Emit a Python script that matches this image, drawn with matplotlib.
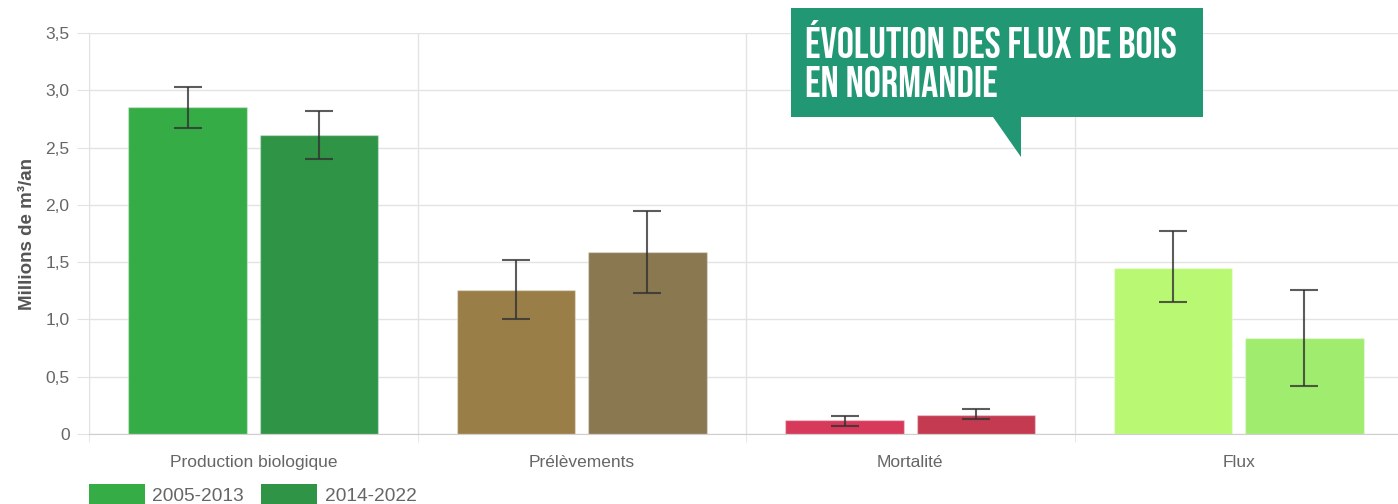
import numpy as np
import matplotlib
matplotlib.use("Agg")
import matplotlib.pyplot as plt
from matplotlib.patches import Rectangle, Polygon, Patch
from matplotlib.ticker import FuncFormatter, MultipleLocator, FixedLocator
from matplotlib import font_manager

plt.rcParams["font.family"] = ["Liberation Sans", "DejaVu Sans"]

categories = ["Production biologique", "Prélèvements", "Mortalité", "Flux"]
series_labels = ["2005-2013", "2014-2022"]

values_2005 = [2.85, 1.26, 0.12, 1.45]
low_2005 = [2.67, 1.00, 0.07, 1.15]
high_2005 = [3.03, 1.52, 0.16, 1.77]

values_2014 = [2.61, 1.59, 0.17, 0.84]
low_2014 = [2.40, 1.23, 0.13, 0.42]
high_2014 = [2.82, 1.95, 0.22, 1.26]

colors_2005 = ["#35ac46", "#9a7e47", "#d6395a", "#b9f872"]
colors_2014 = ["#2f9445", "#8a7850", "#c43a50", "#a0ec6e"]

title_lines = ["ÉVOLUTION DES FLUX DE BOIS", "EN NORMANDIE"]

GRID = "#e3e3e3"
TXT = "#666666"


def pick_font(cands):
    for c in cands:
        try:
            font_manager.findfont(font_manager.FontProperties(family=c),
                                  fallback_to_default=False)
            return c
        except ValueError:
            continue
    return "DejaVu Sans"


title_font = pick_font(["Bebas Neue", "Oswald", "Fira Sans Extra Condensed",
                        "Fira Sans Condensed", "Liberation Sans Narrow"])

fig = plt.figure(figsize=(13.98, 5.04), dpi=100)
ax = fig.add_axes([89 / 1398, 1 - 434 / 504, 1314 / 1398, 401 / 504])

x = np.arange(len(categories))
width = 0.36
off = 0.2
for vals, lo, hi, cols, sgn in [(values_2005, low_2005, high_2005, colors_2005, -1),
                                (values_2014, low_2014, high_2014, colors_2014, 1)]:
    vals = np.array(vals)
    yerr = [vals - np.array(lo), np.array(hi) - vals]
    ax.bar(x + sgn * off, vals, width, color=cols, edgecolor=[(1, 1, 1, 0.35)] * 4,
           linewidth=1, zorder=2)
    ax.errorbar(x + sgn * off, vals, yerr=yerr, fmt="none", ecolor="#333333",
                alpha=0.8, elinewidth=1.5, capsize=10, capthick=1.5, zorder=3)

ax.set_xlim(-0.5, 3.5)
ax.set_ylim(0, 3.5)
ax.yaxis.set_major_locator(MultipleLocator(0.5))
ax.yaxis.set_major_formatter(FuncFormatter(
    lambda v, p: "0" if abs(v) < 1e-9 else f"{v:.1f}".replace(".", ",")))
ax.set_xticks(x)
ax.set_xticklabels(categories)
ax.xaxis.set_minor_locator(FixedLocator([-0.5, 0.5, 1.5, 2.5, 3.5]))
ax.tick_params(axis="x", which="major", length=0, pad=15, labelsize=12.5, labelcolor=TXT)
ax.tick_params(axis="x", which="minor", length=6, color=GRID)
ax.tick_params(axis="y", length=9, color=GRID, pad=5, labelsize=12.5, labelcolor=TXT)
ax.grid(True, axis="y", which="major", color=GRID, linewidth=1, zorder=0)
ax.grid(True, axis="x", which="minor", color=GRID, linewidth=1, zorder=0)
ax.set_axisbelow(True)
for s in ("top", "right"):
    ax.spines[s].set_visible(False)
ax.spines["left"].set_color(GRID)
ax.spines["bottom"].set_color("#cfcfcf")
ax.set_ylabel("Millions de m³/an", fontsize=13.5, fontweight="bold", color="#555555",
              labelpad=7)

handles = [Patch(facecolor=colors_2005[0]), Patch(facecolor=colors_2014[0])]
fig.legend(handles, series_labels, loc="upper left", bbox_to_anchor=(89 / 1398, 1 - 484 / 504),
           frameon=False, handlelength=2.9, handleheight=1.3, handletextpad=0.4,
           columnspacing=0.9, ncol=2, borderpad=0, borderaxespad=0, fontsize=13.8,
           labelcolor=TXT)

# callout title
box_col = "#219773"
fig.add_artist(Rectangle((791 / 1398, 1 - 117 / 504), 412 / 1398, 109 / 504,
                         transform=fig.transFigure, facecolor=box_col, edgecolor="none",
                         zorder=5))
fig.add_artist(Polygon([(993 / 1398, 1 - 117 / 504), (1021 / 1398, 1 - 117 / 504),
                        (1021 / 1398, 1 - 157 / 504)], closed=True,
                       transform=fig.transFigure, facecolor=box_col, edgecolor="none",
                       zorder=5))
t1 = fig.text(805 / 1398, 1 - 58 / 504, title_lines[0], color="white", fontsize=28,
              fontweight="bold", family=title_font, zorder=6)
t2 = fig.text(805 / 1398, 1 - 97 / 504, title_lines[1], color="white", fontsize=28,
              fontweight="bold", family=title_font, zorder=6)
# fit first line to the callout width (~372 px)
r = fig.canvas.get_renderer()
w = t1.get_window_extent(r).width
if w > 0:
    fs = min(28 * 372 / w, 31)
    t1.set_fontsize(fs)
    t2.set_fontsize(fs)

fig.savefig("out.png", dpi=100)
